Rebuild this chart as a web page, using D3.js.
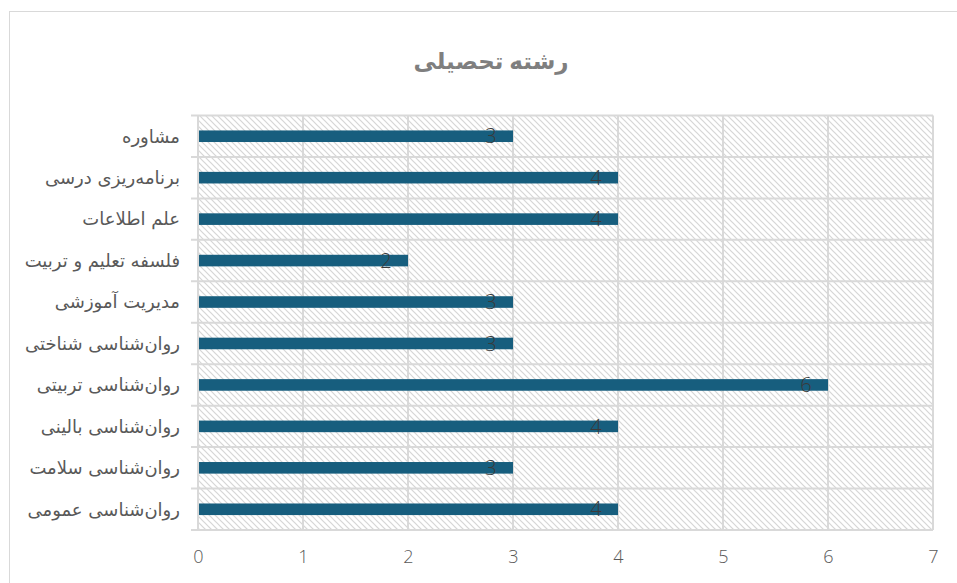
<!DOCTYPE html>
<html><head><meta charset="utf-8">
<script src="https://cdn.jsdelivr.net/npm/d3@7"></script>
<style>body{margin:0;background:#fff}svg{display:block}</style>
</head><body>
<svg id="c" width="957" height="583"></svg>
<script>
const title = "رشته تحصیلی";
const categories = ["مشاوره","برنامه‌ریزی درسی","علم اطلاعات","فلسفه تعلیم و تربیت","مدیریت آموزشی","روان‌شناسی شناختی","روان‌شناسی تربیتی","روان‌شناسی بالینی","روان‌شناسی سلامت","روان‌شناسی عمومی"];
const values = [3,4,4,2,3,3,6,4,3,4];
const xTicks = [0,1,2,3,4,5,6,7];

const svg = d3.select("#c");
const L = 198, R = 933, T = 115.5, B = 530;
svg.append("rect").attr("x",9.5).attr("y",11.5).attr("width",960).attr("height",600)
  .attr("fill","#fff").attr("stroke","#d9d9d9").attr("stroke-width",1);

const defs = svg.append("defs");
const pat = defs.append("pattern").attr("id","hatch").attr("patternUnits","userSpaceOnUse")
  .attr("width",6).attr("height",6);
pat.append("rect").attr("width",6).attr("height",6).attr("fill","#fff");
pat.append("path").attr("d","M-1,-1 L7,7 M-1,5 L1,7 M5,-1 L7,1").attr("stroke","#d6d6d6").attr("stroke-width",1.2);

const x = d3.scaleLinear().domain([0,7]).range([L,R]);
const y = d3.scaleBand().domain(categories).range([T,B]);

svg.append("rect").attr("x",L).attr("y",T).attr("width",R-L).attr("height",B-T).attr("fill","url(#hatch)");

// gridlines
const g = svg.append("g");
g.selectAll("line.v").data(xTicks).join("line")
  .attr("x1",d=>x(d)).attr("x2",d=>x(d)).attr("y1",T).attr("y2",B)
  .attr("stroke","#d9d9d9").attr("stroke-width",2);
const bounds = categories.map(c=>y(c)).concat([B]);
g.selectAll("line.h").data(bounds).join("line")
  .attr("x1",L-7).attr("x2",R).attr("y1",d=>d).attr("y2",d=>d)
  .attr("stroke","#d9d9d9").attr("stroke-width",2);

// bars
const bh = 11.6;
svg.selectAll("rect.bar").data(values).join("rect")
  .attr("x",x(0)+1).attr("y",(d,i)=>y(categories[i])+y.bandwidth()/2-bh/2)
  .attr("width",d=>x(d)-x(0)-1).attr("height",bh).attr("fill","#175e7e");

// data labels
svg.selectAll("text.lab").data(values).join("text")
  .attr("x",d=>x(d)-22).attr("y",(d,i)=>y(categories[i])+y.bandwidth()/2)
  .attr("dy","0.36em").attr("text-anchor","middle")
  .attr("font-family","'Open Sans', 'DejaVu Sans', sans-serif").attr("font-weight",300)
  .attr("font-size",20).attr("fill","#3a3a3a").text(d=>d);

// category labels
svg.selectAll("text.cat").data(categories).join("text")
  .attr("x",180).attr("y",c=>y(c)+y.bandwidth()/2)
  .attr("dy","0.35em").attr("text-anchor","end")
  .attr("font-family","'DejaVu Sans', sans-serif")
  .attr("font-size",18).attr("fill","#595959").text(c=>c);

// x axis labels
const ax = d3.axisBottom(x).tickValues(xTicks).tickFormat(d3.format("d")).tickSize(0).tickPadding(0);
const axg = svg.append("g").attr("transform",`translate(0,${B})`).call(ax);
axg.select(".domain").remove();
axg.selectAll("text").attr("y",27).attr("dy","0.35em")
  .attr("font-family","'Open Sans', 'DejaVu Sans', sans-serif").attr("font-weight",300)
  .attr("font-size",18).attr("fill","#595959");

// title
svg.append("text").attr("x",491).attr("y",61).attr("text-anchor","middle").attr("dy","0.35em")
  .attr("font-family","'Noto Sans', 'DejaVu Sans', sans-serif").attr("font-weight","bold")
  .attr("font-size",23).attr("fill","#7f7f7f").text(title);
</script>
</body></html>
